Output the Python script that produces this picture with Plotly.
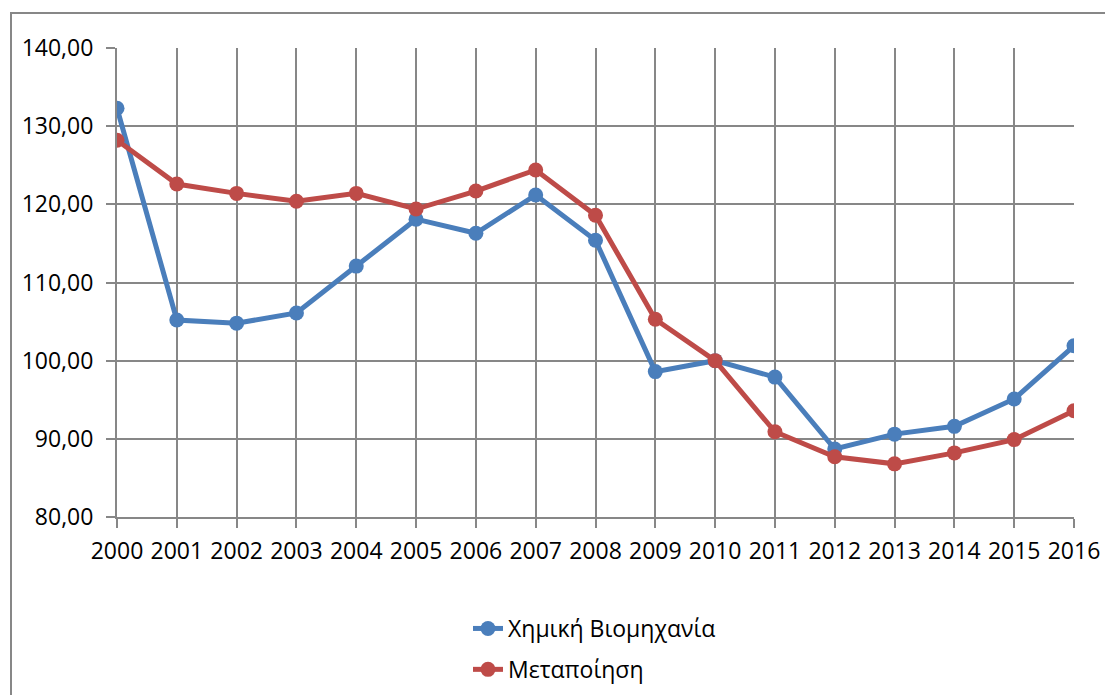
import plotly.graph_objects as go

years = list(range(2000, 2017))
chem = [132.3, 105.2, 104.8, 106.1, 112.1, 118.1, 116.3, 121.2, 115.4, 98.6, 100.0, 97.9, 88.7, 90.6, 91.6, 95.1, 101.9]
manuf = [128.2, 122.6, 121.4, 120.4, 121.4, 119.4, 121.7, 124.4, 118.6, 105.3, 100.0, 90.9, 87.7, 86.8, 88.2, 89.9, 93.6]
names = ["Χημική Βιομηχανία", "Μεταποίηση"]
colors = ["#4a7ebb", "#be4b48"]

W, H = 1105, 695
L, R, T, B = 117, 31, 48, 178
pw = W - L - R
ph = H - T - B

fig = go.Figure()
for i, (vals, name, col) in enumerate(zip([chem, manuf], names, colors)):
    fig.add_trace(go.Scatter(
        x=years, y=vals, name=name, mode="lines+markers",
        legendgroup=f"g{i}",
        line=dict(color=col, width=5),
        marker=dict(color=col, size=15),
    ))

font = dict(family="Open Sans, Noto Sans, sans-serif", size=23, color="#000000")
grid = "#878787"

fig.update_layout(
    width=W, height=H,
    margin=dict(l=L, r=R, t=T, b=B, pad=0, autoexpand=False),
    paper_bgcolor="white", plot_bgcolor="white",
    separators=",.",
    font=font,
    showlegend=True,
    legend=dict(
        orientation="v", xref="container", yref="container",
        x=0.538, xanchor="center", y=1 - 607 / H, yanchor="top",
        font=font, tracegroupgap=8, bgcolor="rgba(0,0,0,0)",
    ),
    xaxis=dict(
        range=[2000, 2016], tickmode="array", tickvals=years,
        ticktext=[str(y) for y in years], tickangle=0,
        showgrid=True, gridcolor=grid, gridwidth=2,
        showline=True, linecolor=grid, linewidth=2,
        ticks="outside", ticklen=9, tickcolor=grid, tickwidth=2,
        zeroline=False, tickfont=font, ticklabelstandoff=3,
        ticklabeloverflow="allow",
    ),
    yaxis=dict(
        range=[80, 140], dtick=10, tick0=80, tickformat=".2f",
        showgrid=True, gridcolor=grid, gridwidth=2,
        showline=True, linecolor=grid, linewidth=2,
        ticks="outside", ticklen=9, tickcolor=grid, tickwidth=2,
        zeroline=False, tickfont=font, ticklabelstandoff=8,
    ),
)

# outer chart frame
fig.add_shape(
    type="rect", xref="paper", yref="paper",
    x0=(11 - L) / pw, x1=(1115 - L) / pw,
    y0=(H - B - 710) / ph, y1=(H - B - 13) / ph,
    line=dict(color=grid, width=2), fillcolor="rgba(0,0,0,0)", layer="below",
)

fig.write_html(
    "out.html",
    config={"displayModeBar": False},
    post_script="document.body.style.margin='0';",
)
